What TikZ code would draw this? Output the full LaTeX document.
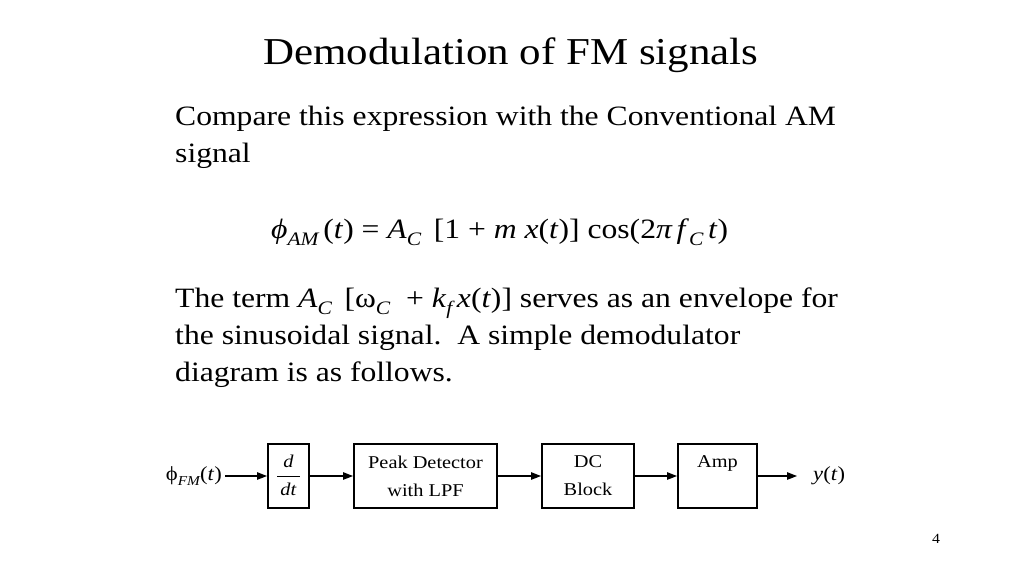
\documentclass[tikz,border=0pt]{standalone}
\usepackage{fontspec}
\setmainfont{Liberation Serif}[FakeStretch=1.13]
\usetikzlibrary{arrows.meta,positioning}
\newcommand{\lowidx}[1]{\raisebox{-0.25em}{\scalebox{0.68}{\itshape #1}}}
\begin{document}
\begin{tikzpicture}[
  x=1pt, y=-1pt,
  body/.style={anchor=base west, align=left, inner sep=0pt,
    font=\fontsize{28}{37}\selectfont},
  blk/.style={draw, line width=2.4pt, inner sep=0pt, minimum height=64pt,
    align=center, font=\fontsize{18}{28}\selectfont},
  sig/.style={line width=1.2pt, -{Triangle[length=10pt,width=7.5pt]}},
  ]
  \useasboundingbox (0,0) rectangle (1024,576);
  \node[anchor=base, inner sep=0pt] (title) at (511,64)
    {\fontsize{38}{46}\selectfont Demodulation of FM signals};
  \node[body] (compare) at (175,162)
    {Compare this expression with the Conventional AM\\signal};
  \node[body] (amexpr) at (271,238)
    {\textit{ϕ}\lowidx{AM}\,(\textit{t}) = \textit{A}\lowidx{C}\, [1 + \textit{m x}(\textit{t})]
     cos(2\textit{π\,f}\lowidx{C}\,\textit{t})};
  \node[body] (envelope) at (175,381)
    {The term \textit{A}\lowidx{C}\, [ω\lowidx{C}\ \ + \textit{k}\lowidx{f}\,\textit{x}(\textit{t})]
     serves as an envelope for\\
     the sinusoidal signal.\ \ A simple demodulator\\
     diagram is as follows.};

  \node[blk, minimum width=40.6pt] (ddt) at (288.5,476)
    {\begin{tabular}{@{\,}c@{\,}}\textit{d}\\\hline\textit{dt}\end{tabular}};
  \node[blk, minimum width=142.6pt, right=43pt of ddt] (peak)
    {Peak Detector\\with LPF};
  \node[blk, minimum width=91.6pt, right=43pt of peak] (dcblk)
    {DC\\Block};
  \node[blk, minimum width=78.6pt, right=42pt of dcblk] (amp)
    {Amp\\\mbox{}};
  \node[anchor=east, inner sep=3pt, font=\fontsize{20}{24}\selectfont] (phiin) at (225,476)
    {ϕ\lowidx{FM}(\textit{t})};
  \node[anchor=west, inner sep=0pt, font=\fontsize{20}{24}\selectfont] (yout) at (813,476)
    {\textit{y}(\textit{t})};
  \coordinate (outend) at (797,476);

  \draw[sig] (phiin) -- (ddt);
  \draw[sig] (ddt) -- (peak);
  \draw[sig] (peak) -- (dcblk);
  \draw[sig] (dcblk) -- (amp);
  \draw[sig] (amp) -- (outend);

  \node[anchor=base, inner sep=0pt] (pagenum) at (936,543)
    {\fontsize{14}{16}\selectfont 4};
\end{tikzpicture}
\end{document}
